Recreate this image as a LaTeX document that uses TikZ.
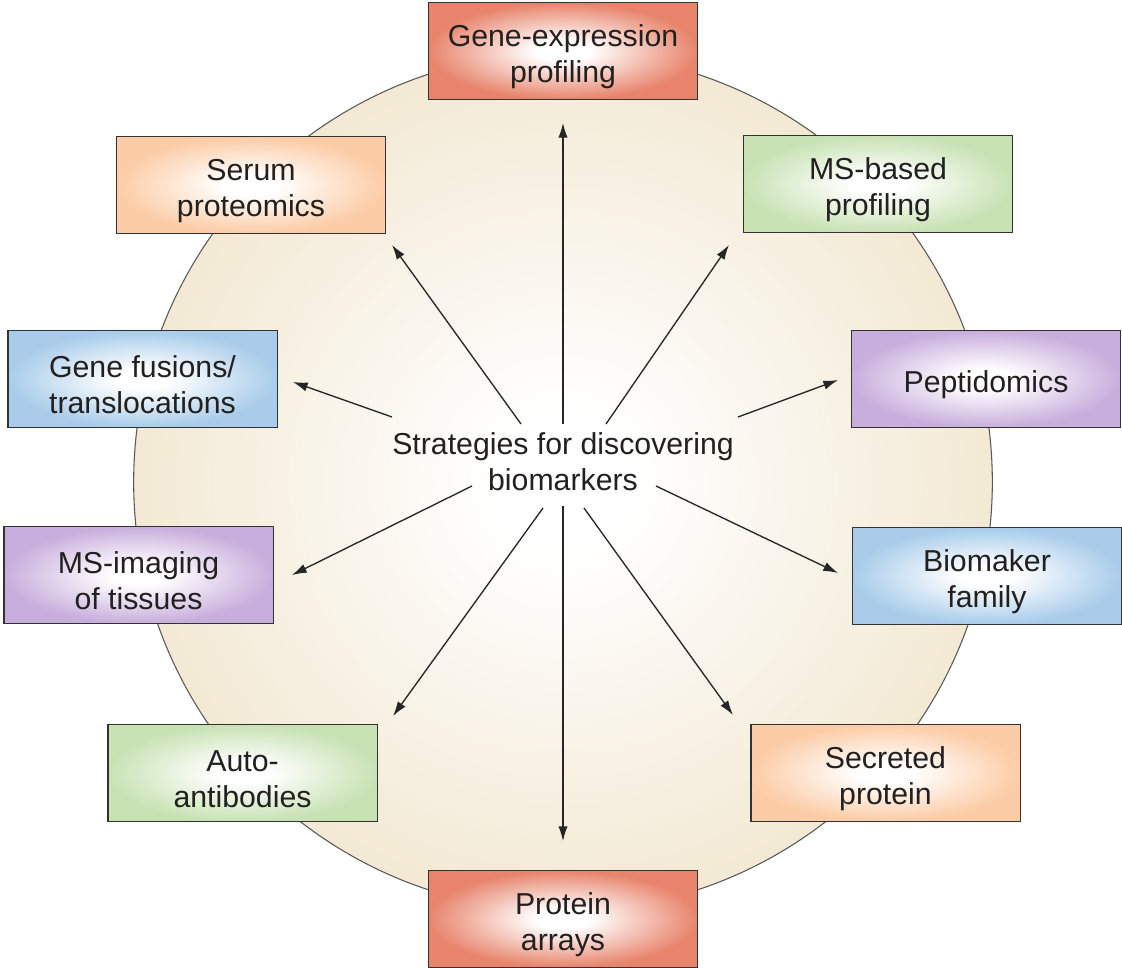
\documentclass[tikz,border=0pt]{standalone}
\usepackage{fontspec}
\setmainfont{Liberation Sans}
\usetikzlibrary{arrows.meta}
\definecolor{cred}{RGB}{232,132,108}
\definecolor{cpeach}{RGB}{252,204,166}
\definecolor{cgreen}{RGB}{200,226,180}
\definecolor{cblue}{RGB}{168,204,234}
\definecolor{cpurple}{RGB}{200,174,220}
\definecolor{cbeige}{RGB}{243,233,212}
\definecolor{boxline}{RGB}{50,50,50}
\definecolor{txt}{RGB}{35,32,32}
\newcommand\mytopstrut{\rule{0pt}{25pt}}
\pgfdeclareradialshading{glowred}{\pgfpoint{0bp}{0bp}}{color(0bp)=(white);color(5bp)=(white);color(25bp)=(cred);color(50bp)=(cred)}
\pgfdeclareradialshading{glowpeach}{\pgfpoint{0bp}{0bp}}{color(0bp)=(white);color(5bp)=(white);color(25bp)=(cpeach);color(50bp)=(cpeach)}
\pgfdeclareradialshading{glowgreen}{\pgfpoint{0bp}{0bp}}{color(0bp)=(white);color(5bp)=(white);color(25bp)=(cgreen);color(50bp)=(cgreen)}
\pgfdeclareradialshading{glowblue}{\pgfpoint{0bp}{0bp}}{color(0bp)=(white);color(5bp)=(white);color(25bp)=(cblue);color(50bp)=(cblue)}
\pgfdeclareradialshading{glowpurple}{\pgfpoint{0bp}{0bp}}{color(0bp)=(white);color(5bp)=(white);color(25bp)=(cpurple);color(50bp)=(cpurple)}
\pgfdeclareradialshading{glowbeige}{\pgfpoint{0bp}{0bp}}{color(0bp)=(white);color(4bp)=(white);color(25bp)=(cbeige);color(50bp)=(cbeige)}
\begin{document}
\begin{tikzpicture}[x=0.75pt,y=-0.75pt,
  lbl/.style={font=\fontsize{22.7}{27}\selectfont, text=txt, align=center},
  box/.style={lbl, draw=boxline, line width=1pt, inner sep=0pt,
    minimum width=202pt, minimum height=72.5pt},
  arr/.style={draw=black!85, line width=1pt, -{Latex[length=11pt,width=7pt]}}]
\useasboundingbox (0,0) rectangle (1122,968);
% circle
\shade[shading=glowbeige] (563,482) circle[radius=322pt];
\draw[gray!70!black, line width=0.8pt] (563,482) circle[radius=322pt];
% centre text
\node[lbl] (c) at (563,462) {Strategies for discovering\\biomarkers};
% boxes
\node[box, shading=glowred] (ge) at (563,51) {\mytopstrut Gene-expression\\profiling};
\node[box, shading=glowpeach] (se) at (251,185) {\mytopstrut Serum\\proteomics};
\node[box, shading=glowgreen] (ms) at (878,184) {\mytopstrut MS-based\\profiling};
\node[box, shading=glowblue] (gf) at (142.5,379) {\mytopstrut Gene fusions/\\translocations};
\node[box, shading=glowpurple] (pe) at (986,379) {\mytopstrut Peptidomics};
\node[box, shading=glowpurple] (mi) at (138.5,575) {\mytopstrut MS-imaging\\of tissues};
\node[box, shading=glowblue] (bf) at (987,576) {\mytopstrut Biomaker\\family};
\node[box, shading=glowgreen] (aa) at (242.5,773) {\mytopstrut Auto-\\antibodies};
\node[box, shading=glowpeach] (sp) at (885.5,773) {\mytopstrut Secreted\\protein};
\node[box, shading=glowred] (pa) at (563,919) {\mytopstrut Protein\\arrays};
% arrow end points
\coordinate (s1) at (563,424); \coordinate (t1) at (563,123);
\coordinate (s2) at (521,424); \coordinate (t2) at (392,245);
\coordinate (s3) at (606,424); \coordinate (t3) at (729,245);
\coordinate (s4) at (392,417); \coordinate (t4) at (293,382);
\coordinate (s5) at (738,417); \coordinate (t5) at (838,380);
\coordinate (s6) at (472,486); \coordinate (t6) at (292,575);
\coordinate (s7) at (656,486); \coordinate (t7) at (838,573);
\coordinate (s8) at (543,508); \coordinate (t8) at (393,716);
\coordinate (s9) at (584,508); \coordinate (t9) at (733,715);
\coordinate (s10) at (563,506); \coordinate (t10) at (563,841);
\foreach \i in {1,...,10} {\draw[arr] (s\i) -- (t\i);}
\end{tikzpicture}
\end{document}
